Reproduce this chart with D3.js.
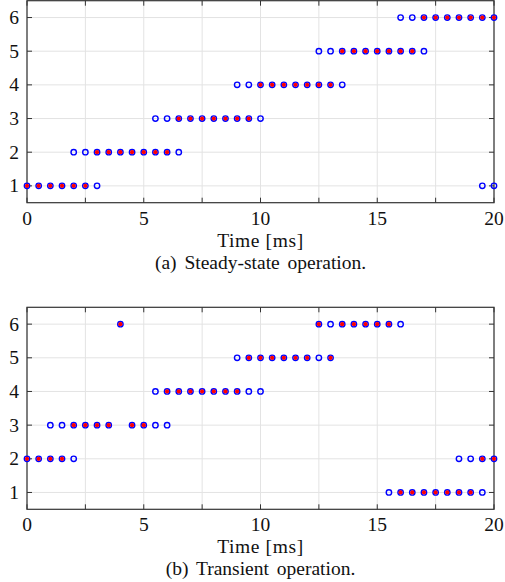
<!DOCTYPE html>
<html>
<head>
<meta charset="utf-8">
<script src="https://cdn.jsdelivr.net/npm/d3@7"></script>
<style>
  body { margin: 0; background: #fff; }
</style>
</head>
<body>
<div id="chart"></div>
<script>
// x ticks every 2.5 ms, labels on multiples of 5
const xTicks = [0, 2.5, 5, 7.5, 10, 12.5, 15, 17.5, 20];
const xLabels = [0, 5, 10, 15, 20];
const yTicks = [1, 2, 3, 4, 5, 6];

// (a) steady-state: level -> sample times [ms]
const steadyBlue = [
    [1, [0, 0.5, 1, 1.5, 2, 2.5, 3, 19.5, 20]],
    [2, [2, 2.5, 3, 3.5, 4, 4.5, 5, 5.5, 6, 6.5]],
    [3, [5.5, 6, 6.5, 7, 7.5, 8, 8.5, 9, 9.5, 10]],
    [4, [9, 9.5, 10, 10.5, 11, 11.5, 12, 12.5, 13, 13.5]],
    [5, [12.5, 13, 13.5, 14, 14.5, 15, 15.5, 16, 16.5, 17]],
    [6, [16, 16.5, 17, 17.5, 18, 18.5, 19, 19.5, 20]]
];
const steadyRed = [
    [1, [0, 0.5, 1, 1.5, 2, 2.5]],
    [2, [3, 3.5, 4, 4.5, 5, 5.5, 6]],
    [3, [6.5, 7, 7.5, 8, 8.5, 9, 9.5]],
    [4, [10, 10.5, 11, 11.5, 12, 12.5, 13]],
    [5, [13.5, 14, 14.5, 15, 15.5, 16, 16.5]],
    [6, [17, 17.5, 18, 18.5, 19, 19.5, 20]]
];

// (b) transient
const transBlue = [
    [1, [15.5, 16, 16.5, 17, 17.5, 18, 18.5, 19, 19.5]],
    [2, [0, 0.5, 1, 1.5, 2, 18.5, 19, 19.5, 20]],
    [3, [1, 1.5, 2, 2.5, 3, 3.5, 4.5, 5, 5.5, 6]],
    [4, [5.5, 6, 6.5, 7, 7.5, 8, 8.5, 9, 9.5, 10]],
    [5, [9, 9.5, 10, 10.5, 11, 11.5, 12, 12.5, 13]],
    [6, [4, 12.5, 13, 13.5, 14, 14.5, 15, 15.5, 16]]
];
const transRed = [
    [1, [16, 16.5, 17, 17.5, 18, 18.5, 19]],
    [2, [0, 0.5, 1, 1.5, 19.5, 20]],
    [3, [2, 2.5, 3, 3.5, 4.5, 5]],
    [4, [6, 6.5, 7, 7.5, 8, 8.5, 9]],
    [5, [9.5, 10, 10.5, 11, 11.5, 12, 13]],
    [6, [4, 12.5, 13.5, 14, 14.5, 15, 15.5]]
];

const flat = rows => rows.flatMap(([v, ts]) => ts.map(t => ({ t: t, v: v })));

const FONT = "'Liberation Serif', 'Times New Roman', serif";
const width = 505, height = 582;
const svg = d3.select("#chart").append("svg")
    .attr("width", width)
    .attr("height", height);

function label(g, x, y, anchor, txt, size) {
    return g.append("text")
        .attr("x", x).attr("y", y)
        .attr("text-anchor", anchor)
        .attr("font-family", FONT)
        .attr("font-size", size || 19.5)
        .attr("fill", "#111")
        .text(txt);
}

function drawPanel(top, blue, red, caption) {
    const left = 27, right = 494, h = 202;
    const x = d3.scaleLinear().domain([0, 20]).range([left, right]);
    const y = d3.scaleLinear().domain([0.5, 6.5]).range([top + h, top]);
    const g = svg.append("g");

    // grid
    g.selectAll("line.gx").data(xTicks).enter().append("line")
        .attr("x1", d => x(d)).attr("x2", d => x(d))
        .attr("y1", top).attr("y2", top + h)
        .attr("stroke", "#e3e3e3").attr("stroke-width", 1);
    g.selectAll("line.gy").data(yTicks).enter().append("line")
        .attr("x1", left).attr("x2", right)
        .attr("y1", d => y(d)).attr("y2", d => y(d))
        .attr("stroke", "#e3e3e3").attr("stroke-width", 1);

    // inward ticks on all four sides
    const tl = 5;
    xTicks.forEach(d => {
        g.append("line").attr("x1", x(d)).attr("x2", x(d))
            .attr("y1", top + h).attr("y2", top + h - tl)
            .attr("stroke", "#333");
        g.append("line").attr("x1", x(d)).attr("x2", x(d))
            .attr("y1", top).attr("y2", top + tl)
            .attr("stroke", "#333");
    });
    yTicks.forEach(d => {
        g.append("line").attr("x1", left).attr("x2", left + tl)
            .attr("y1", y(d)).attr("y2", y(d))
            .attr("stroke", "#333");
        g.append("line").attr("x1", right).attr("x2", right - tl)
            .attr("y1", y(d)).attr("y2", y(d))
            .attr("stroke", "#333");
    });

    g.append("rect")
        .attr("x", left).attr("y", top)
        .attr("width", right - left).attr("height", h)
        .attr("fill", "none").attr("stroke", "#333").attr("stroke-width", 1.2);

    // tick labels
    xLabels.forEach(d => label(g, x(d), top + h + 22, "middle", d));
    yTicks.forEach(d => label(g, 19, y(d) + 6.5, "end", d));

    label(g, x(10), top + h + 44, "middle", "Time [ms]")
        .attr("letter-spacing", 0.6);
    label(g, x(10), top + h + 66, "middle", caption)
        .attr("word-spacing", 3);

    // markers
    g.selectAll("circle.blue").data(flat(blue)).enter().append("circle")
        .attr("class", "blue")
        .attr("cx", d => x(d.t)).attr("cy", d => y(d.v))
        .attr("r", 2.7)
        .attr("fill", "none").attr("stroke", "#0000ff").attr("stroke-width", 1.4);
    g.selectAll("circle.red").data(flat(red)).enter().append("circle")
        .attr("class", "red")
        .attr("cx", d => x(d.t)).attr("cy", d => y(d.v))
        .attr("r", 2.1)
        .attr("fill", "#ff0000");
}

drawPanel(0.7, steadyBlue, steadyRed, "(a) Steady-state operation.");
drawPanel(307.3, transBlue, transRed, "(b) Transient operation.");
</script>
</body>
</html>
